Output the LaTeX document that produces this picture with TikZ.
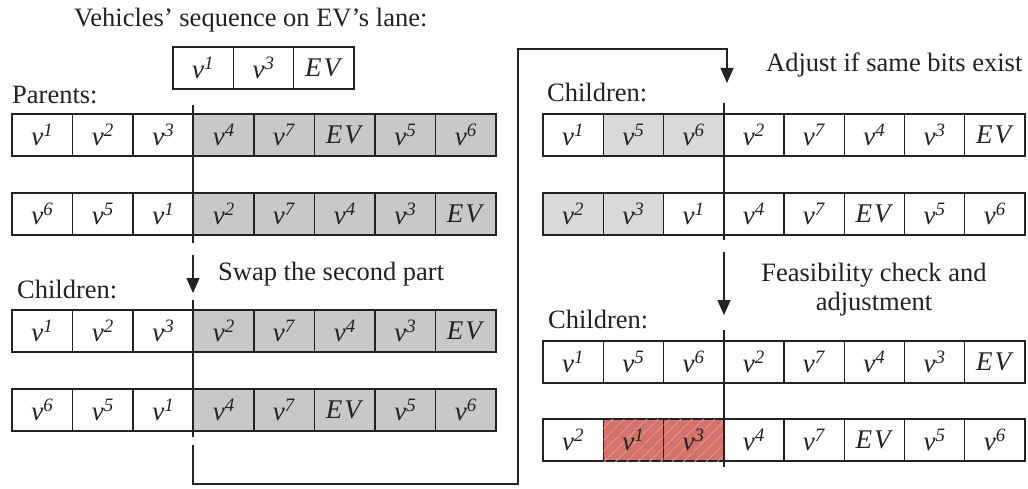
\documentclass[tikz,border=0pt]{standalone}
\usepackage{fontspec}
\setmainfont{Liberation Serif}
\usetikzlibrary{arrows.meta,patterns.meta}
\definecolor{gdark}{HTML}{C8C8C8}
\definecolor{glight}{HTML}{D9D9D9}
\definecolor{redf}{HTML}{D4736B}
\definecolor{redh}{HTML}{E3968E}
\definecolor{ink}{HTML}{222222}
\newcommand{\vx}[1]{\textit{v}\textsuperscript{\textit{#1}}}
\newcommand{\EVt}{\textit{E\kern2pt V}}
\newcommand{\cellrow}[5]{%
  \foreach \t/\s [count=\i] in {#5} {
    \node[cellbox,\s,minimum width=#3pt] (#1-\i) at ({#2+(\i-0.5)*#3},{#4+21}) {\t};
  }}
\begin{document}
\begin{tikzpicture}[x=1pt,y=-1pt,
  cellbox/.style={draw=ink, line width=1.2pt, minimum height=42pt, inner sep=0pt,
    font=\fontsize{27}{30}\selectfont, text=ink},
  cw/.style={fill=white},
  cg/.style={fill=gdark},
  cl/.style={fill=glight},
  cr/.style={fill=redf, postaction={pattern={Lines[angle=45,distance=8pt,line width=0.8pt]}, pattern color=redh}},
  lbl/.style={font=\fontsize{26.5}{29}\selectfont, text=ink, inner sep=0pt},
  conn/.style={draw=ink, line width=1.3pt, line join=miter},
  arr/.style={conn, -{Triangle[width=13pt,length=15pt]}}]
\useasboundingbox[fill=white] (0,0) rectangle (1028,489);

% labels
\node[lbl, anchor=base west] (title) at (74,27) {Vehicles’ sequence on EV’s lane:};
\node[lbl, anchor=base west] (parents) at (12,104) {Parents:};
\node[lbl, anchor=base west] (chL) at (17,298) {Children:};
\node[lbl, anchor=base west] (swap) at (218,280) {Swap the second part};
\node[lbl, anchor=base west] (chR1) at (547,102) {Children:};
\node[lbl, anchor=base west] (adj) at (766,72) {Adjust if same bits exist};
\node[lbl, align=center, anchor=north] (feas) at (874,263) {Feasibility check and\\adjustment};
\node[lbl, anchor=base west] (chR2) at (548,328) {Children:};

% rows
\cellrow{sq}{173}{60.33}{47}{\vx{1}/cw, \vx{3}/cw, \EVt/cw}
\cellrow{pa}{12}{60.5}{114}{\vx{1}/cw, \vx{2}/cw, \vx{3}/cw, \vx{4}/cg, \vx{7}/cg, \EVt/cg, \vx{5}/cg, \vx{6}/cg}
\cellrow{pb}{12}{60.5}{193}{\vx{6}/cw, \vx{5}/cw, \vx{1}/cw, \vx{2}/cg, \vx{7}/cg, \vx{4}/cg, \vx{3}/cg, \EVt/cg}
\cellrow{ca}{12}{60.5}{310}{\vx{1}/cw, \vx{2}/cw, \vx{3}/cw, \vx{2}/cg, \vx{7}/cg, \vx{4}/cg, \vx{3}/cg, \EVt/cg}
\cellrow{cb}{12}{60.5}{389}{\vx{6}/cw, \vx{5}/cw, \vx{1}/cw, \vx{4}/cg, \vx{7}/cg, \EVt/cg, \vx{5}/cg, \vx{6}/cg}
\cellrow{ra}{543}{60.25}{114}{\vx{1}/cw, \vx{5}/cl, \vx{6}/cl, \vx{2}/cw, \vx{7}/cw, \vx{4}/cw, \vx{3}/cw, \EVt/cw}
\cellrow{rb}{543}{60.25}{193}{\vx{2}/cl, \vx{3}/cl, \vx{1}/cw, \vx{4}/cw, \vx{7}/cw, \EVt/cw, \vx{5}/cw, \vx{6}/cw}
\cellrow{rc}{543}{60.25}{341}{\vx{1}/cw, \vx{5}/cw, \vx{6}/cw, \vx{2}/cw, \vx{7}/cw, \vx{4}/cw, \vx{3}/cw, \EVt/cw}
\cellrow{rd}{543}{60.25}{419}{\vx{2}/cw, \vx{1}/cr, \vx{3}/cr, \vx{4}/cw, \vx{7}/cw, \EVt/cw, \vx{5}/cw, \vx{6}/cw}

% coordinates for dividers and connectors
\coordinate (dLa) at (193,105); \coordinate (dLb) at (193,243);
\coordinate (aLs) at (193,255); \coordinate (aLe) at (193,293);
\coordinate (dLc) at (193,300); \coordinate (dLd) at (193,437);
\coordinate (bS) at (193,445); \coordinate (bBR) at (518,484);
\coordinate (bTL) at (727,49); \coordinate (bE) at (727,83);
\coordinate (dRa) at (724,103); \coordinate (dRb) at (724,240);
\coordinate (aRs) at (724,252); \coordinate (aRe) at (724,315);
\coordinate (dRc) at (724,330); \coordinate (dRd) at (724,467);

\draw[conn] (dLa) -- (dLb);
\draw[arr] (aLs) -- (aLe);
\draw[conn] (dLc) -- (dLd);
\draw[arr] (bS) |- (bBR) |- (bTL) -- (bE);
\draw[conn] (dRa) -- (dRb);
\draw[arr] (aRs) -- (aRe);
\draw[conn] (dRc) -- (dRd);
\end{tikzpicture}
\end{document}
